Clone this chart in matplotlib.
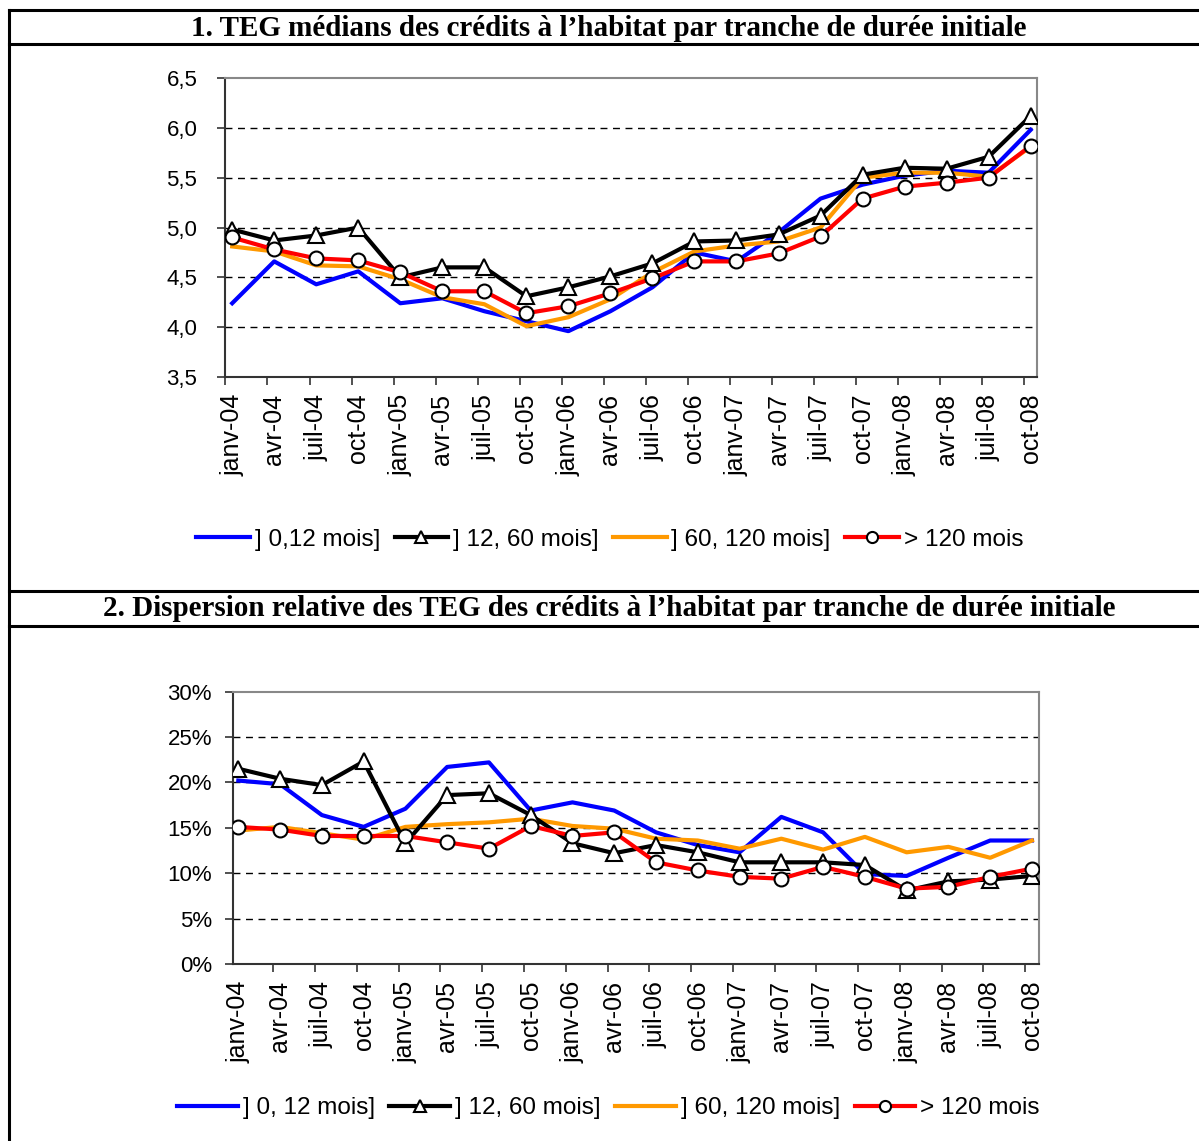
import numpy as np
import matplotlib.pyplot as plt
from matplotlib.lines import Line2D
from matplotlib.ticker import FixedLocator, FuncFormatter

# Categories (quarters)
mois = ['janv-04', 'avr-04', 'juil-04', 'oct-04', 'janv-05', 'avr-05', 'juil-05', 'oct-05',
        'janv-06', 'avr-06', 'juil-06', 'oct-06', 'janv-07', 'avr-07', 'juil-07', 'oct-07',
        'janv-08', 'avr-08', 'juil-08', 'oct-08']

# 1. TEG medians (%)
teg_0_12 = [4.24, 4.66, 4.43, 4.56, 4.24, 4.29, 4.16, 4.06, 3.96, 4.16,
            4.40, 4.75, 4.66, 4.95, 5.29, 5.43, 5.52, 5.57, 5.55, 5.98]
teg_12_60 = [4.98, 4.87, 4.92, 5.00, 4.50, 4.60, 4.60, 4.31, 4.40, 4.51,
             4.64, 4.86, 4.87, 4.93, 5.12, 5.53, 5.60, 5.59, 5.71, 6.12]
teg_60_120 = [4.81, 4.76, 4.62, 4.61, 4.48, 4.30, 4.23, 4.01, 4.10, 4.28,
              4.55, 4.76, 4.82, 4.86, 5.00, 5.50, 5.55, 5.55, 5.51, 5.81]
teg_120 = [4.90, 4.78, 4.69, 4.67, 4.55, 4.36, 4.36, 4.14, 4.21, 4.34,
           4.49, 4.66, 4.66, 4.74, 4.91, 5.29, 5.41, 5.45, 5.50, 5.82]

# 2. Relative dispersion (%)
disp_0_12 = [20.2, 19.8, 16.4, 15.1, 17.1, 21.7, 22.2, 16.9, 17.8, 16.9,
             14.5, 13.1, 12.3, 16.2, 14.5, 9.9, 9.7, 11.7, 13.6, 13.6]
disp_12_60 = [21.5, 20.4, 19.7, 22.3, 13.3, 18.6, 18.8, 16.4, 13.3, 12.2,
              13.1, 12.3, 11.2, 11.2, 11.2, 10.9, 8.1, 9.1, 9.3, 9.7]
disp_60_120 = [14.7, 15.1, 14.4, 13.7, 15.1, 15.4, 15.6, 16.0, 15.2, 14.9,
               13.8, 13.6, 12.7, 13.8, 12.6, 14.0, 12.3, 12.9, 11.7, 13.6]
disp_120 = [15.1, 14.8, 14.1, 14.1, 14.1, 13.4, 12.7, 15.2, 14.1, 14.5,
            11.2, 10.3, 9.6, 9.4, 10.7, 9.6, 8.3, 8.5, 9.6, 10.5]

plt.rcParams['font.family'] = ['Liberation Sans', 'DejaVu Sans']

fig = plt.figure(figsize=(11.99, 11.41), dpi=100)
x = np.arange(len(mois))


def style_axes(ax, xoff, ylim, yticks, fmt, ypad):
    ax.set_xlim(-xoff[0], len(mois) - 1 + xoff[1])
    ax.set_ylim(*ylim)
    ax.set_xticks(x)
    ax.set_xticklabels(mois, rotation=90, fontsize=18)
    ax.tick_params(axis='x', which='major', length=0, pad=12)
    ax.xaxis.set_minor_locator(FixedLocator(x - 0.16))
    ax.tick_params(axis='x', which='minor', length=6, width=1.2, color='#333333')
    ax.set_yticks(yticks)
    ax.yaxis.set_major_formatter(FuncFormatter(fmt))
    ax.tick_params(axis='y', length=6, width=1.2, color='#333333', labelsize=16, pad=ypad)
    for yv in yticks[1:-1]:
        ax.axhline(yv, color='black', lw=1, ls=(0, (5, 4)), zorder=1)
    for s in ['top', 'right']:
        ax.spines[s].set_color('#888888')
        ax.spines[s].set_linewidth(1.5)
    for s in ['left', 'bottom']:
        ax.spines[s].set_color('#333333')
        ax.spines[s].set_linewidth(1.5)


def draw_series(ax, series):
    ax.plot(x, series[0], color='#0000ff', lw=3, zorder=3)
    ax.plot(x, series[1], color='black', lw=3, marker='^', ms=11, mfc='white',
            mec='black', mew=1.5, zorder=4)
    ax.plot(x, series[2], color='#ff9900', lw=3, zorder=3)
    ax.plot(x, series[3], color='#ff0000', lw=3, marker='o', ms=10, mfc='white',
            mec='black', mew=1.5, zorder=5)


def legend_handles():
    return [Line2D([], [], color='#0000ff', lw=3),
            Line2D([], [], color='black', lw=3, marker='^', ms=8, mfc='white', mec='black', mew=1.5),
            Line2D([], [], color='#ff9900', lw=3),
            Line2D([], [], color='#ff0000', lw=3, marker='o', ms=8, mfc='white', mec='black', mew=1.5)]


# Top chart
ax1 = fig.add_axes([0.1877, 0.6696, 0.6768, 0.2620])
draw_series(ax1, [teg_0_12, teg_12_60, teg_60_120, teg_120])
style_axes(ax1, (0.17, 0.14), (3.5, 6.5), np.arange(3.5, 6.51, 0.5),
           lambda v, p: f'{v:.1f}'.replace('.', ','), 14)
ax1.legend(legend_handles(), ['] 0,12 mois]', '] 12, 60 mois]', '] 60, 120 mois]', '> 120 mois'],
           loc='center', bbox_to_anchor=(0.474, -0.545), ncol=4, frameon=False,
           fontsize=17.5, handlelength=2.2, handletextpad=0.2, columnspacing=0.6)

# Bottom chart
ax2 = fig.add_axes([0.1941, 0.1551, 0.6725, 0.2388])
draw_series(ax2, [disp_0_12, disp_12_60, disp_60_120, disp_120])
style_axes(ax2, (0.134, 0.17), (0, 30), np.arange(0, 31, 5),
           lambda v, p: f'{v:.0f}%', 9)
ax2.legend(legend_handles(), ['] 0, 12 mois]', '] 12, 60 mois]', '] 60, 120 mois]', '> 120 mois'],
           loc='center', bbox_to_anchor=(0.466, -0.53), ncol=4, frameon=False,
           fontsize=17.5, handlelength=2.5, handletextpad=0.2, columnspacing=0.6)

# Titles
fig.text(0.508, 1 - 28 / 1141, '1. TEG médians des crédits à l’habitat par tranche de durée initiale',
         ha='center', va='center', fontsize=21, fontweight='bold', family='Liberation Serif')
fig.text(0.508, 1 - 609 / 1141, '2. Dispersion relative des TEG des crédits à l’habitat par tranche de durée initiale',
         ha='center', va='center', fontsize=21, fontweight='bold', family='Liberation Serif')

# Table frame lines
x0 = 9 / 1199
for yp in [10, 44, 591, 626]:
    fig.add_artist(Line2D([x0, 1], [1 - yp / 1141, 1 - yp / 1141], color='black', lw=2.2))
fig.add_artist(Line2D([x0, x0], [1 - 10 / 1141, 0], color='black', lw=2.2))

fig.savefig('out.png', dpi=100)
